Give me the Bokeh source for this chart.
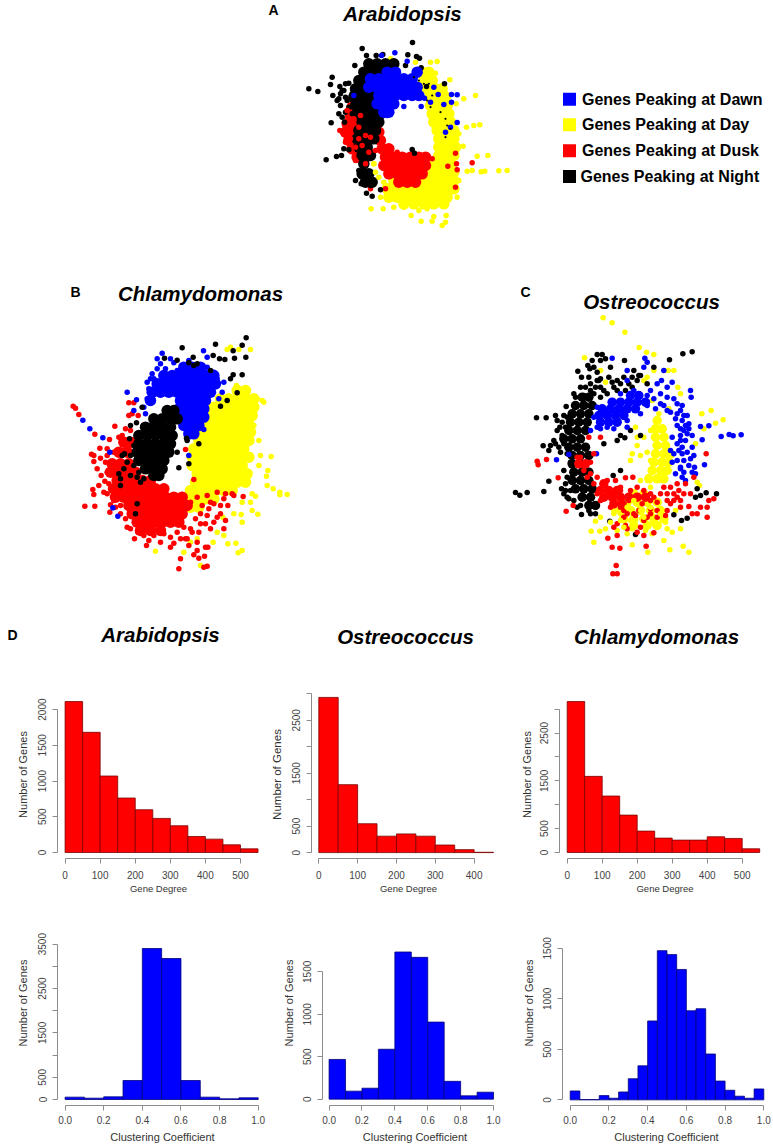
from bokeh.plotting import figure
from bokeh.layouts import column, row
from bokeh.models import Range1d, FixedTicker
from bokeh.core.properties import value
from bokeh.embed import file_html
from bokeh.resources import INLINE

FONT = "Liberation Sans"
BLUE, YELLOW, RED, BLACK = "#0000ff", "#ffff00", "#ff0000", "#000000"

# ---------- histogram values ----------
ara_degree = [2112, 1682, 1070, 762, 598, 477, 374, 224, 187, 107, 51]
ost_degree = [2932, 1283, 545, 310, 353, 310, 143, 56, 6]
chl_degree = [3161, 1594, 1182, 783, 448, 301, 259, 259, 329, 294, 77]
ara_cc = [53, 30, 60, 428, 3402, 3177, 428, 53, 15, 38]
ost_cc = [468, 94, 129, 588, 1734, 1671, 908, 210, 39, 82]
chl_cc = [88, 3, 3, 42, 16, 78, 209, 337, 781, 1477, 1438, 1291, 882, 902, 454, 186, 95, 36, 16, 108]

# ---------- titles / legend ----------
legend_labels = ["Genes Peaking at Dawn", "Genes Peaking at Day", "Genes Peaking at Dusk", "Genes Peaking at Night"]
legend_colors = [BLUE, YELLOW, RED, BLACK]

# ---------- network clouds: dense cores read row by row (y, [x...]) and individual genes (x, y) ----------
A_yellow_core = [(215,[395,415]),(240,[400,425]),(265,[410,435,455]),(290,[420,445,465]),(315,[420,445,470]),(340,[425,450,475]),(365,[430,455,480]),(390,[440,465,490]),(415,[445,470,490]),(440,[445,470,495]),(465,[445,470,490]),(490,[430,455,480]),(515,[420,445,470,490]),(540,[310,335,400,425,450,475,490]),(565,[290,315,340,365,390,415,440,465,490]),(590,[295,320,345,370,395,420,445,470]),(610,[340,370,400,430,460])]
A_yellow = [(420,185),(440,183),(415,210),(435,218),(478,238),(465,278),(520,295),(555,285),(497,310),(528,380),(550,375),(568,373),(518,437),(490,420),(505,400),(560,467),(592,465),(545,510),(572,514),(583,512),(625,511),(650,510),(530,512),(242,625),(278,625),(310,620),(340,620),(385,630),(410,625),(362,645),(430,648),(467,645),(392,662),(425,662),(465,665),(455,675),(270,590),(500,590),(505,540),(300,175),(375,185),(250,490),(372,518)]
A_red_core = [(320,[185]),(345,[180]),(370,[170,195]),(395,[165,190,215,265]),(420,[175,200,270]),(445,[185,210,275,295]),(470,[200,225,285,310,335,360,385,405]),(495,[280,305,330,355,380,405]),(520,[295,320,345,370,395]),(545,[325,350,375])]
A_red = [(148,390),(165,425),(190,440),(185,312),(178,362),(495,458),(498,490),(472,497),(545,487),(500,508),(495,560),(425,475),(320,455),(240,565),(285,565),(240,450),(215,495),(170,360),(160,400)]
A_black_core = [(190,[235,260,285,310]),(215,[220,245,270]),(240,[205,230]),(265,[195,220,240]),(290,[190,215,240]),(315,[195,220,245]),(340,[200,225,250,270]),(365,[215,240,265]),(390,[205,230,255]),(415,[200,225,250]),(440,[205,230]),(465,[215,240]),(490,[220]),(520,[215,235]),(545,[225,245])]
A_black = [(55,265),(82,273),(120,252),(125,230),(127,285),(148,258),(155,270),(165,250),(175,248),(145,295),(150,315),(165,290),(185,280),(145,340),(165,335),(122,367),(162,365),(160,445),(153,465),(138,468),(107,478),(175,448),(215,144),(228,165),(257,165),(193,195),(277,162),(352,163),(366,126),(378,168),(387,173),(392,202),(345,195),(365,447),(372,458),(462,250),(408,258),(205,510),(195,540),(212,550),(228,578),(240,555),(270,568),(245,587),(215,525),(190,290),(160,270),(150,280),(170,300),(175,320),(185,340),(155,350),(140,300)]
A_blue_core = [(215,[290,315,380]),(235,[240,265,290,315,340,365]),(260,[235,260,285,310,335,360,380]),(285,[265,290,315,340,365,385]),(310,[260,285,310]),(335,[280,295])]
A_blue = [(313,157),(273,165),(350,182),(340,318),(392,318),(420,305),(460,312),(443,282),(483,282),(500,283),(483,305),(500,366),(402,293),(190,285),(290,345),(255,305),(480,380),(465,395),(430,260)]
A_red_top = [(170,330),(190,355),(205,380),(180,395),(205,415),(225,405),(195,440),(215,435),(235,455),(180,415),(210,345),(195,480),(225,490),(240,410),(255,450),(280,500)]
A_yellow_top = [(250,490),(255,515),(265,530),(280,545)]
A_specks = [(370,230),(385,240),(400,250),(415,250),(425,285),(410,300),(420,320),(450,335),(465,355),(470,375),(480,385),(465,410)]

B_yellow_core = [(345,[560,585]),(370,[510,535,560,585,610]),(395,[490,515,540,565,590,610]),(420,[480,505,530,555,580,605]),(445,[470,495,520,545,570,595]),(470,[455,480,505,530,555,580,600]),(495,[445,470,495,520,545,570,595]),(520,[430,455,480,505,530,555,580]),(545,[425,450,475,500,525,550,575,595]),(570,[425,450,475,500,525,550,575]),(595,[440,465,490,515,540,565,590]),(620,[435,460,485,510,535,560,585]),(645,[420,445,470,495,520,545]),(670,[415,440,465,490]),(695,[420,445])]
B_yellow = [(640,380),(620,370),(635,375),(600,410),(610,450),(625,495),(630,540),(662,543),(625,570),(652,585),(648,602),(650,630),(668,640),(688,650),(688,658),(710,657),(605,655),(615,662),(600,680),(605,705),(622,716),(575,680),(572,717),(550,715),(575,740),(517,725),(520,780),(532,805),(556,803),(575,825),(563,832),(488,800),(400,830),(315,827),(450,870),(530,222),(540,215),(565,222),(600,222),(558,330),(420,800),(440,790),(500,770)]
B_red_core = [(500,[220,240]),(530,[205,230]),(565,[185,210,235]),(590,[180,205,230,255]),(615,[200,225,250,275,300]),(640,[190,215,240,265,290,315,340]),(665,[195,220,245,270,295,320,345,370,395]),(690,[235,260,285,310,335,360,385,410]),(715,[245,270,295,320,345,370,395]),(740,[260,285,310,335,360,385]),(765,[270,300,330])]
B_red = [(68,392),(75,398),(85,417),(133,476),(177,492),(148,518),(123,536),(130,558),(150,548),(165,560),(152,600),(163,617),(127,642),(130,657),(160,650),(170,655),(103,692),(133,692),(180,688),(178,710),(195,695),(230,755),(252,790),(288,810),(295,795),(370,803),(390,850),(385,880),(430,838),(445,848),(462,842),(460,875),(470,872),(465,815),(472,815),(235,382),(250,382),(245,415),(235,420),(263,420),(193,452),(205,485),(240,465),(525,735),(520,760),(532,690),(545,655),(578,663),(525,655),(550,660),(405,522),(430,612),(500,650),(490,685),(455,690),(435,730),(465,745),(500,725),(425,770),(405,790),(445,770),(475,700),(510,690),(360,785),(330,800),(420,680),(440,665),(470,660),(520,670),(470,720),(450,745),(480,760),(420,760),(410,790),(380,770),(440,800),(450,715),(490,740),(400,755),(510,715),(480,680),(130,540),(170,520),(190,530),(140,580),(170,590),(145,630),(175,625),(180,640),(190,675),(210,690),(210,715),(225,730),(240,760),(262,770),(280,780),(310,780),(340,775),(390,790),(415,810),(440,825),(360,815),(200,570),(170,540),(215,480),(225,460)]
B_blue_core = [(275,[400,425,450]),(300,[340,365,390,415,440,465,490]),(325,[320,345,370,395,420,445,470,495]),(350,[305,330,355,380,405,430,455,480]),(375,[300,390,415,440,465]),(400,[385,410,435,460]),(425,[390,415,440,460]),(450,[400,425,445]),(475,[415,430])]
B_blue = [(230,350),(258,373),(250,405),(285,415),(97,434),(118,460),(157,487),(178,530),(187,697),(202,722),(335,233),(320,250),(360,250),(305,295),(320,280),(345,280),(459,226),(470,245),(415,255),(295,340),(290,370),(520,320),(505,370),(515,350),(460,462),(415,540),(400,270),(440,270),(490,290),(500,310),(280,395),(310,310),(350,310),(300,310),(290,320),(330,265),(370,262),(380,285),(420,280),(450,285),(470,275)]
B_black_core = [(405,[350,370]),(430,[310,335,360,380]),(455,[285,310,335,360]),(480,[265,290,315,340,365]),(505,[265,290,315,340,360]),(530,[260,285,310,335,355]),(555,[265,290,315,340]),(580,[285,310,335]),(600,[310,325])]
B_black = [(587,187),(575,209),(495,206),(395,217),(548,226),(586,245),(552,248),(507,250),(523,252),(342,248),(380,254),(428,245),(488,240),(415,262),(440,265),(480,285),(548,298),(575,298),(540,310),(530,375),(560,352),(510,392),(240,450),(258,442),(275,395),(237,490),(222,535),(385,577),(380,530),(415,565),(260,605),(205,595),(260,685),(255,715),(430,270),(408,488),(410,495),(445,505),(210,610),(215,540),(250,510),(240,540),(230,560),(250,570),(220,580),(265,590),(280,610),(270,620),(210,630),(240,600)]

C_yellow_core = [(420,[470]),(445,[465,485]),(470,[465,490]),(495,[470,495]),(520,[465,490,510]),(545,[460,485,505]),(570,[455,480,500]),(595,[445,470,490]),(640,[400,430]),(665,[380,410,440,470]),(690,[360,390,420,450,480]),(715,[370,400,430,460,490]),(735,[400,440,470])]
C_yellow = [(308,112),(335,127),(373,155),(416,201),(438,215),(460,222),(252,232),(503,270),(520,270),(532,320),(540,340),(505,385),(604,400),(632,390),(668,418),(645,428),(610,445),(585,490),(590,605),(597,615),(540,745),(548,797),(565,815),(508,808),(490,780),(442,815),(395,793),(280,785),(272,752),(298,752),(285,722),(300,710),(395,520),(410,495),(405,440),(390,540),(420,525),(440,515),(430,470),(380,760),(350,750),(300,270),(315,305),(440,290),(430,300),(460,270),(455,360),(475,400),(525,690),(515,755),(540,680),(410,470),(450,450),(450,540),(450,620),(420,600),(360,700),(340,690),(395,690),(395,745),(435,750),(470,735),(455,760),(495,725)]
C_black_core = [(350,[245,265]),(375,[225,250,275]),(400,[215,240,265]),(425,[210,235,260]),(450,[205,230,255]),(475,[190,215,240]),(500,[205,230,255]),(525,[215,240,265]),(550,[215,240]),(575,[220,245,265]),(600,[215,240,265]),(625,[225,250,275]),(650,[245,270]),(675,[265,285])]
C_black = [(290,222),(305,222),(262,255),(280,260),(300,240),(315,235),(372,240),(232,272),(243,290),(290,275),(325,290),(350,300),(370,290),(385,310),(410,300),(340,320),(310,330),(250,345),(108,412),(137,412),(165,405),(197,378),(190,405),(178,440),(160,480),(128,496),(150,495),(145,510),(175,500),(200,520),(210,545),(215,590),(195,610),(183,625),(145,602),(130,633),(45,636),(58,644),(80,636),(190,640),(200,650),(240,675),(243,702),(265,690),(547,220),(575,214),(507,238),(460,260),(405,762),(328,722),(520,703),(543,720),(560,713),(590,625),(585,650),(600,645),(617,637),(648,640),(338,585),(360,570),(373,472),(420,465),(390,450),(360,465),(310,490),(350,480),(268,265),(295,300),(270,310),(300,320),(335,305),(360,310),(395,290),(420,285),(440,310),(280,340),(300,350),(275,240),(320,340),(170,450),(185,465),(195,440),(165,490),(180,515),(190,490),(190,570),(200,590),(195,630),(210,630),(205,655),(220,660),(230,680),(270,700),(285,700),(170,420),(200,410),(185,425),(255,320),(270,330),(240,320),(220,340),(225,350),(285,320),(265,290),(300,295),(330,260),(400,270),(415,285),(395,320),(375,330),(350,330),(290,300)]
C_blue_core = [(345,[390,415]),(365,[335,360,385,410,435]),(385,[305,330,355,380,405]),(405,[295,320,345,370]),(425,[300,325,350])]
C_blue = [(335,233),(433,233),(440,245),(380,270),(430,260),(490,270),(515,305),(483,300),(570,330),(572,350),(530,370),(545,375),(510,395),(560,405),(545,420),(530,435),(550,450),(575,465),(555,480),(515,470),(545,500),(575,500),(545,520),(600,438),(625,436),(605,478),(662,468),(686,462),(698,466),(722,463),(612,553),(582,560),(570,535),(530,540),(510,510),(525,580),(555,600),(545,590),(585,580),(205,522),(168,538),(288,520),(290,440),(320,440),(350,420),(380,420),(420,400),(440,375),(480,370),(500,350),(460,355),(450,330),(520,355),(540,390),(555,435),(540,465),(560,460),(530,490),(550,540),(565,555),(540,565),(520,520),(500,390),(480,340),(440,345),(465,385),(490,375),(530,400),(525,415),(565,430),(550,405),(540,445),(565,445),(535,510),(560,515),(540,480),(580,525),(515,545),(540,560),(575,575),(550,575),(500,320),(470,310),(380,300),(400,330),(360,340),(290,380),(280,410),(300,445),(270,450),(340,445),(380,440)]
C_red_core = [(550,[235,255]),(610,[310]),(630,[300,325,350]),(650,[310,335,360,385,410,435]),(670,[340,365])]
C_red = [(110,542),(113,553),(138,537),(173,592),(197,692),(218,675),(270,580),(290,590),(345,600),(375,592),(397,590),(320,600),(360,620),(410,620),(450,660),(480,640),(510,620),(530,610),(555,610),(570,640),(500,660),(540,660),(540,680),(575,700),(590,700),(620,710),(620,680),(600,680),(625,660),(640,655),(617,520),(580,590),(565,678),(440,710),(420,740),(430,765),(460,757),(380,745),(350,765),(322,773),(335,800),(358,803),(347,855),(337,880),(350,880),(437,797),(495,705),(380,700),(415,690),(240,530),(270,545),(265,470),(300,470),(470,690),(300,660),(330,680),(360,680),(350,730),(370,710),(520,640),(535,630),(490,620),(510,670),(470,665),(405,705),(450,685),(340,640),(360,630),(390,630),(430,630),(450,640),(460,650),(500,640),(520,660),(550,640),(530,650),(450,700),(400,700),(370,690),(425,670),(470,710),(500,690),(340,740),(375,735),(410,755),(430,720),(385,660),(340,660),(290,640),(280,610),(260,590),(250,570),(230,530),(280,520)]
C_yellow_top = [(400,660),(420,690),(450,680),(380,680),(390,720),(430,710),(460,730),(480,700),(370,740),(500,745),(340,700),(360,720),(330,725),(315,745)]

# ---------- canvas carrying the three networks, titles and legend ----------
TOP_W, TOP_H = 773, 690
canvas = figure(width=TOP_W, height=TOP_H, x_range=Range1d(0, TOP_W), y_range=Range1d(TOP_H, 0),
                toolbar_location=None, output_backend="svg", min_border=0, outline_line_color=None,
                x_axis_type=None, y_axis_type=None)
canvas.grid.visible = False

def add_panel(name, ox, oy):
    canvas.extra_x_ranges[name] = Range1d((0 - ox) * 3, (TOP_W - ox) * 3)
    canvas.extra_y_ranges[name] = Range1d((TOP_H - oy) * 3, (0 - oy) * 3)

def dots(name, pts, color, size):
    canvas.scatter([q[0] for q in pts], [q[1] for q in pts], size=size, color=color, line_color=None,
                   x_range_name=name, y_range_name=name)

def core(name, rows, color, size):
    pts = [(x, y) for y, xs in rows for x in xs]
    dots(name, pts, color, size)

add_panel("A", 290, 0)
add_panel("B", 50, 275)
add_panel("C", 500, 280)
DOT = 5.5
CA, CB, CC = 11.5, 11.5, 9.5
for name, blocks in [
    ("A", [(A_yellow_core, A_yellow, YELLOW, CA), (A_red_core, A_red, RED, CA), (A_black_core, A_black, BLACK, CA), (A_blue_core, A_blue, BLUE, CA)]),
    ("B", [(B_yellow_core, B_yellow, YELLOW, CB), (B_red_core, B_red, RED, CB), (B_blue_core, B_blue, BLUE, CB), (B_black_core, B_black, BLACK, CB)]),
    ("C", [(C_yellow_core, C_yellow, YELLOW, CC), (C_black_core, C_black, BLACK, CC), (C_blue_core, C_blue, BLUE, CC), (C_red_core, C_red, RED, CC)]),
]:
    for core_rows, pts, col, size in blocks:
        core(name, core_rows, col, size)
        dots(name, pts, col, DOT)
dots("A", A_red_top, RED, DOT)
dots("A", A_yellow_top, YELLOW, DOT)
dots("A", A_specks, BLACK, 2.2)
dots("C", C_yellow_top, YELLOW, DOT)

def label(x, y, s, size, style="bold", align="center"):
    canvas.text([x], [y], text=[s], text_font=value(FONT), text_font_size=size, text_font_style=style,
                text_align=align, text_baseline="middle", text_color="#000000")

for x, y, s in [(402, 13, "Arabidopsis"), (200, 293, "Chlamydomonas"), (651, 301, "Ostreococcus"),
                (160, 634, "Arabidopsis"), (405, 636, "Ostreococcus"), (656, 636, "Chlamydomonas")]:
    label(x, y, s, "20.5px", "bold italic")
for x, y, s in [(273, 9, "A"), (75, 291, "B"), (525, 291, "C"), (12, 634, "D")]:
    label(x, y, s, "14px")
legend_y = [98.7, 124.3, 150.3, 176]
canvas.scatter([569] * 4, legend_y, size=13, marker="square", color=legend_colors, line_color=None)
for yy, s, xx in zip(legend_y, legend_labels, [581.5, 581.5, 581.5, 580]):
    label(xx, yy, s, "16px", "bold", "left")

# ---------- R-style histograms ----------
def hist(vals, bin_w, color, edge, left, right, top, bottom, x0px, xspp, y0px, yspp, axis_x, axis_y,
         xticks, yticks, ylabeled, xlabel, xfmt=None, label_size="11px", xstand=1, ystand=7, xlabstand=7):
    """left/right/top/bottom: figure box in reference px; x0px,y0px: px of data 0; xspp/yspp: px per unit."""
    w, h = right - left, bottom - top
    xr = Range1d((axis_x - x0px) / xspp, (right - 3 - x0px) / xspp)
    yr = Range1d((y0px - axis_y) / yspp, (y0px - top) / yspp)
    p = figure(width=w, height=h, x_range=xr, y_range=yr, toolbar_location=None, output_backend="svg",
               min_border_left=round(axis_x - left), min_border_right=3, min_border_top=0,
               min_border_bottom=round(bottom - axis_y), outline_line_color=None)
    p.grid.visible = False
    p.quad(left=[i * bin_w for i in range(len(vals))], right=[(i + 1) * bin_w for i in range(len(vals))],
           bottom=0, top=vals, fill_color=color, line_color=edge, line_width=0.8)
    ax, ay = p.xaxis[0], p.yaxis[0]
    ax.ticker = FixedTicker(ticks=xticks)
    ay.ticker = FixedTicker(ticks=yticks)
    ax.bounds = (xticks[0], xticks[-1])
    ay.bounds = (yticks[0], yticks[-1])
    if xfmt:
        ax.major_label_overrides = {t: xfmt % t for t in xticks}
    ay.major_label_overrides = {t: (str(t) if t in ylabeled else "") for t in yticks}
    ay.major_label_orientation = "vertical"
    ax.axis_label = xlabel
    ay.axis_label = "Number of Genes"
    for a in (ax, ay):
        a.axis_line_color = "#8c8c8c"
        a.major_tick_line_color = "#8c8c8c"
        a.minor_tick_line_color = None
        a.major_tick_in = 0
        a.major_tick_out = 5
        a.major_label_text_font = FONT
        a.major_label_text_font_size = "10px"
        a.major_label_text_color = "#444444"
        a.axis_label_text_font = FONT
        a.axis_label_text_font_style = "normal"
        a.axis_label_text_color = "#333333"
    ax.major_label_standoff = xlabstand
    ay.major_label_standoff = 6
    ax.axis_label_text_font_size = "9.5px" if xlabel == "Gene Degree" else "11px"
    ay.axis_label_text_font_size = label_size
    ax.axis_label_standoff = xstand
    ay.axis_label_standoff = ystand
    return p

X5 = [0, 100, 200, 300, 400, 500]
CCT = [0.0, 0.2, 0.4, 0.6, 0.8, 1.0]
R1T, R1B = 690, 900
R2T, R2B = 900, 1148
h1 = hist(ara_degree, 50, RED, "#7a0000", 0, 262, R1T, R1B, 64.3, 0.3513, 851.7, 0.07133, 56.7, 857.7,
          X5, [0, 500, 1000, 1500, 2000], [0, 500, 1000, 1500, 2000], "Gene Degree")
h2 = hist(ost_degree, 50, RED, "#7a0000", 262, 508, R1T, R1B, 318.3, 0.3883, 854.7, 0.05378, 311, 860.7,
          [0, 100, 200, 300, 400], [0, 500, 1000, 1500, 2000, 2500, 3000], [0, 500, 1500, 2500], "Gene Degree", label_size="11.5px")
h3 = hist(chl_degree, 50, RED, "#7a0000", 508, 773, R1T, R1B, 566.7, 0.35, 851.7, 0.04767, 559, 857.7,
          X5, [0, 500, 1000, 1500, 2000, 2500, 3000], [0, 500, 1500, 2500], "Gene Degree", ystand=5)
h4 = hist(ara_cc, 0.1, BLUE, "#00007a", 0, 270, R2T, R2B, 64.3, 193.4, 1099, 0.04438, 56.7, 1105,
          CCT, [0, 500, 1000, 1500, 2000, 2500, 3000, 3500], [0, 500, 1500, 2500, 3500], "Clustering Coefficient", "%.1f", xstand=4, xlabstand=5)
h5 = hist(ost_cc, 0.1, BLUE, "#00007a", 270, 510, R2T, R2B, 328.3, 164.7, 1100.3, 0.08556, 321.7, 1106.7,
          CCT, [0, 500, 1000, 1500], [0, 500, 1000, 1500], "Clustering Coefficient", "%.1f", xstand=4, ystand=6, xlabstand=5)
h6 = hist(chl_cc, 0.05, BLUE, "#00007a", 510, 773, R2T, R2B, 570, 193.3, 1101.3, 0.102, 562.3, 1107,
          CCT, [0, 500, 1000, 1500], [0, 500, 1000, 1500], "Clustering Coefficient", "%.1f", xstand=4, ystand=6, xlabstand=5)

page = column(canvas, row(h1, h2, h3), row(h4, h5, h6), spacing=0)
open("out.html", "w").write(file_html(page, INLINE))
